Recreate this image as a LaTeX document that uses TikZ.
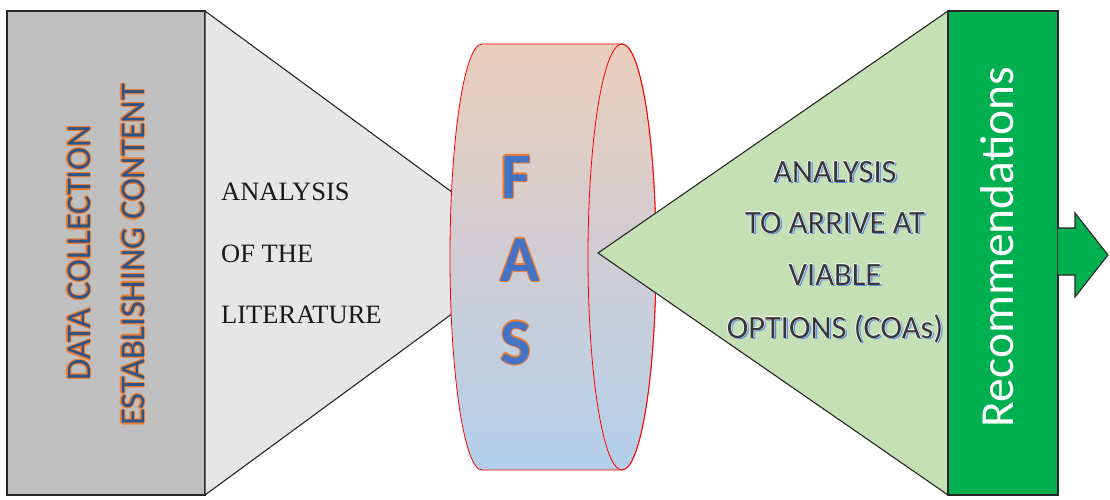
\documentclass[tikz,border=0pt]{standalone}
\usepackage{fontspec}
\setmainfont{Liberation Serif}
\newfontfamily\carfont{Carlito}
\usetikzlibrary{calc}
\definecolor{boxgray}{RGB}{191,191,191}
\definecolor{trigray}{RGB}{231,230,230}
\definecolor{trigreen}{RGB}{197,224,180}
\definecolor{recgreen}{RGB}{0,176,80}
\definecolor{glowor}{RGB}{237,125,49}
\definecolor{txtblue}{RGB}{46,84,134}
\definecolor{fasblue}{RGB}{68,114,196}
\definecolor{shblue}{RGB}{91,140,230}
\definecolor{dgray}{RGB}{55,55,55}
\definecolor{cylA}{RGB}{206,225,243}
\definecolor{cylB}{RGB}{178,207,234}
\definecolor{cylC}{RGB}{208,205,212}
\definecolor{cylD}{RGB}{234,206,188}
\definecolor{cylE}{RGB}{247,202,172}
\pgfdeclareverticalshading{cylshade}{100bp}{
  color(0bp)=(cylA);
  color(25bp)=(cylB);
  color(50bp)=(cylC);
  color(75bp)=(cylD);
  color(100bp)=(cylE)}
\newcommand\glownode[7]{%
  \foreach \a in {0,45,...,315}{\node[inner sep=0,rotate=#3,font=#4,text=#5] at ($(#2)+(\a:1.1)$) {#7};}
  \node[inner sep=0,rotate=#3,font=#4,text=#6] (#1) at (#2) {#7};}
\newcommand\shadnode[3]{%
  \node[inner sep=0,anchor=base,font=\carfont\fontsize{32.5}{32.5}\selectfont,text=shblue] at ($(#2)+(1.8,-1.8)$) {#3};
  \foreach \a in {0,90,180,270}{\node[inner sep=0,anchor=base,font=\carfont\fontsize{32.5}{32.5}\selectfont,text=white] at ($(#2)+(\a:0.7)$) {#3};}
  \node[inner sep=0,anchor=base,font=\carfont\fontsize{32.5}{32.5}\selectfont,text=dgray] (#1) at (#2) {#3};}
\tikzset{
  shapeline/.style={draw=black!85,line width=1.1pt},
  littext/.style={inner sep=0,anchor=west,font=\fontsize{26.5}{26.5}\selectfont,text=black!90}
}
\begin{document}
\begin{tikzpicture}[x=1pt,y=1pt]
\useasboundingbox (0,0) rectangle (1110,-500);
% left gray box
\fill[boxgray,shapeline] (7,-11) rectangle (205,-495);
% light triangle
\fill[trigray,shapeline] (205,-11) -- (535,-253) -- (205,-495) -- cycle;
% cylinder
\shade[shading=cylshade,draw=red,line width=0.8pt] (482,-44) -- (622,-44)
  arc[start angle=90,end angle=-90,x radius=34,y radius=213] -- (482,-470)
  arc[start angle=270,end angle=90,x radius=32,y radius=213] -- cycle;
\draw[red,line width=0.8pt] (622,-257) ellipse[x radius=34,y radius=213];
% green triangle
\fill[trigreen,shapeline] (948,-11) -- (598,-253) -- (948,-495) -- cycle;
% recommendations box and arrow
\fill[recgreen,shapeline] (948,-11) rectangle (1058,-495);
\fill[recgreen,shapeline] (1058,-228) -- (1075,-228) -- (1075,-213) -- (1108,-255)
  -- (1075,-297) -- (1075,-275) -- (1058,-275);
% left texts
\glownode{dc}{79,-253}{90}{\carfont\fontsize{34.5}{34.5}\selectfont}{glowor}{txtblue}{DATA COLLECTION}
\glownode{ec}{133,-255}{90}{\carfont\fontsize{34.5}{34.5}\selectfont}{glowor}{txtblue}{ESTABLISHING CONTENT}
% literature texts
\node[littext] (l1) at (221,-192) {ANALYSIS};
\node[littext] (l2) at (221,-254) {OF THE};
\node[littext] (l3) at (221,-315) {LITERATURE};
% FAS
\glownode{f}{516,-177}{0}{\carfont\bfseries\fontsize{65}{65}\selectfont}{glowor}{fasblue}{F}
\glownode{a}{520,-260}{0}{\carfont\bfseries\fontsize{65}{65}\selectfont}{glowor}{fasblue}{A}
\glownode{s}{516,-343}{0}{\carfont\bfseries\fontsize{65}{65}\selectfont}{glowor}{fasblue}{S}
% green triangle texts
\shadnode{g1}{835,-182}{ANALYSIS}
\shadnode{g2}{835,-233}{TO ARRIVE AT}
\shadnode{g3}{835,-285}{VIABLE}
\shadnode{g4}{835,-338}{OPTIONS (COAs)}
% recommendations
\node[inner sep=0,rotate=90,font=\carfont\fontsize{47.5}{47.5}\selectfont,text=white] (rec) at (997,-247) {Recommendations};
\end{tikzpicture}
\end{document}
